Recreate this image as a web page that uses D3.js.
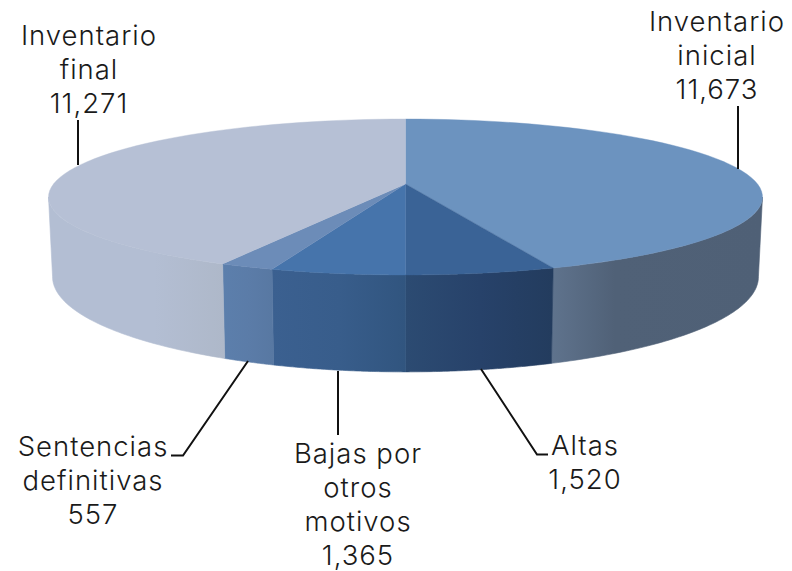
<!doctype html>
<html lang="es">
<head>
<meta charset="utf-8">
<title>Inventario</title>
<style>
	html, body { margin: 0; background: #fff; }
	text { font-family: Inter, Lato, sans-serif; font-weight: 300; font-size: 27.5px; letter-spacing: 1px; fill: #1a1a1a; text-anchor: middle; }
</style>
</head>
<body>
<div id="chart"></div>
<script src="https://cdn.jsdelivr.net/npm/d3@7"></script>
<script>
var categories = ["Inventario inicial", "Altas", "Bajas por otros motivos", "Sentencias definitivas", "Inventario final"];
var values = [11673, 1520, 1365, 557, 11271];
var valueLabels = ["11,673", "1,520", "1,365", "557", "11,271"];
var labelLines = [["Inventario", "inicial"], ["Altas"], ["Bajas por", "otros", "motivos"], ["Sentencias", "definitivas"], ["Inventario", "final"]];

var topColors = ["#6c93bf", "#3a6396", "#4674ab", "#6c8cb8", "#b6c0d5"];
var sideColors = [["#5f738d", "#506177", "#4f6076"], ["#2c4b72", "#27426a", "#233c5e"], ["#3b6090", "#385d8b", "#31557f"], ["#5c7fac", "#5b7ca8", "#5878a2"], ["#b3bed3", "#b3bed3", "#aeb8c9"]];
var sideStops = [[0, 0.3, 1], [0, 0.5, 1], [0, 0.5, 1], [0, 0.5, 1], [0, 0.6, 1]];

var width = 792, height = 571;
var svg = d3.select("#chart").append("svg").attr("width", width).attr("height", height);
var defs = svg.append("defs");

// perspective: front of the disc is closer, so the apex sits above the ellipse middle
var k = 1 / 6;
var topFace = { cx: 405.5, cy: 184, a: 352, b: 75.8 };
var bottomFace = { cx: 405.5, cy: 261, a: 348, b: 92.4 };
var edgeAngle = Math.acos(-k); // where the outline is widest

function project(face, angle, r) {
	var u = r * Math.sin(angle), v = -r * Math.cos(angle);
	var d = 1 - k * v;
	return [face.cx + face.a * u / d, face.cy + face.b * v / d];
}

var pie = d3.pie().sort(null).value(function(d) { return d; });
var arcs = pie(values);
var line = d3.line();

function rim(face, a0, a1) {
	return d3.range(0, 61).map(function(i) {
		return project(face, a0 + (a1 - a0) * i / 60, 1);
	});
}

// walls first; only the front part of the disc shows its side
arcs.forEach(function(d, i) {
	var a0 = d.startAngle, a1 = d.endAngle;
	if (i == 0) a0 = edgeAngle;
	if (i == 4) a1 = 2 * Math.PI - edgeAngle;
	var upper = rim(topFace, a0, a1), lower = rim(bottomFace, a0, a1).reverse();
	var xs = d3.extent(upper.concat(lower), function(p) { return p[0]; });
	var grad = defs.append("linearGradient").attr("id", "side" + i)
		.attr("gradientUnits", "userSpaceOnUse")
		.attr("x1", xs[0]).attr("x2", xs[1]).attr("y1", 0).attr("y2", 0);
	sideStops[i].forEach(function(s, j) {
		grad.append("stop").attr("offset", s).attr("stop-color", sideColors[i][j]);
	});
	svg.append("path")
		.attr("d", line(upper.concat(lower)) + "Z")
		.attr("fill", "url(#side" + i + ")")
		.attr("stroke", "url(#side" + i + ")")
		.attr("stroke-width", 0.6);
});

// top faces
arcs.forEach(function(d, i) {
	var pts = [[topFace.cx, topFace.cy]].concat(rim(topFace, d.startAngle, d.endAngle));
	svg.append("path")
		.attr("d", line(pts) + "Z")
		.attr("fill", topColors[i])
		.attr("stroke", topColors[i])
		.attr("stroke-width", 0.4);
});

// leader lines
var leaders = [
	[[738, 106], [738, 169]],
	[[481, 369], [537, 454.5], [548, 454.5]],
	[[338, 371], [338, 435]],
	[[248, 361], [183, 455.5], [171, 455.5]],
	[[78, 120], [78, 165]]
];
leaders.forEach(function(l) {
	svg.append("path").attr("d", line(l)).attr("fill", "none").attr("stroke", "#111").attr("stroke-width", 2);
});

// labels
var labelX = [717, 585, 358, 93, 89];
var labelY = [31, 455, 463, 456, 45];
var lineGap = 34;
labelLines.forEach(function(lines, i) {
	lines.concat([valueLabels[i]]).forEach(function(t, j) {
		svg.append("text").attr("x", labelX[i]).attr("y", labelY[i] + j * lineGap).text(t);
	});
});
</script>
</body>
</html>
